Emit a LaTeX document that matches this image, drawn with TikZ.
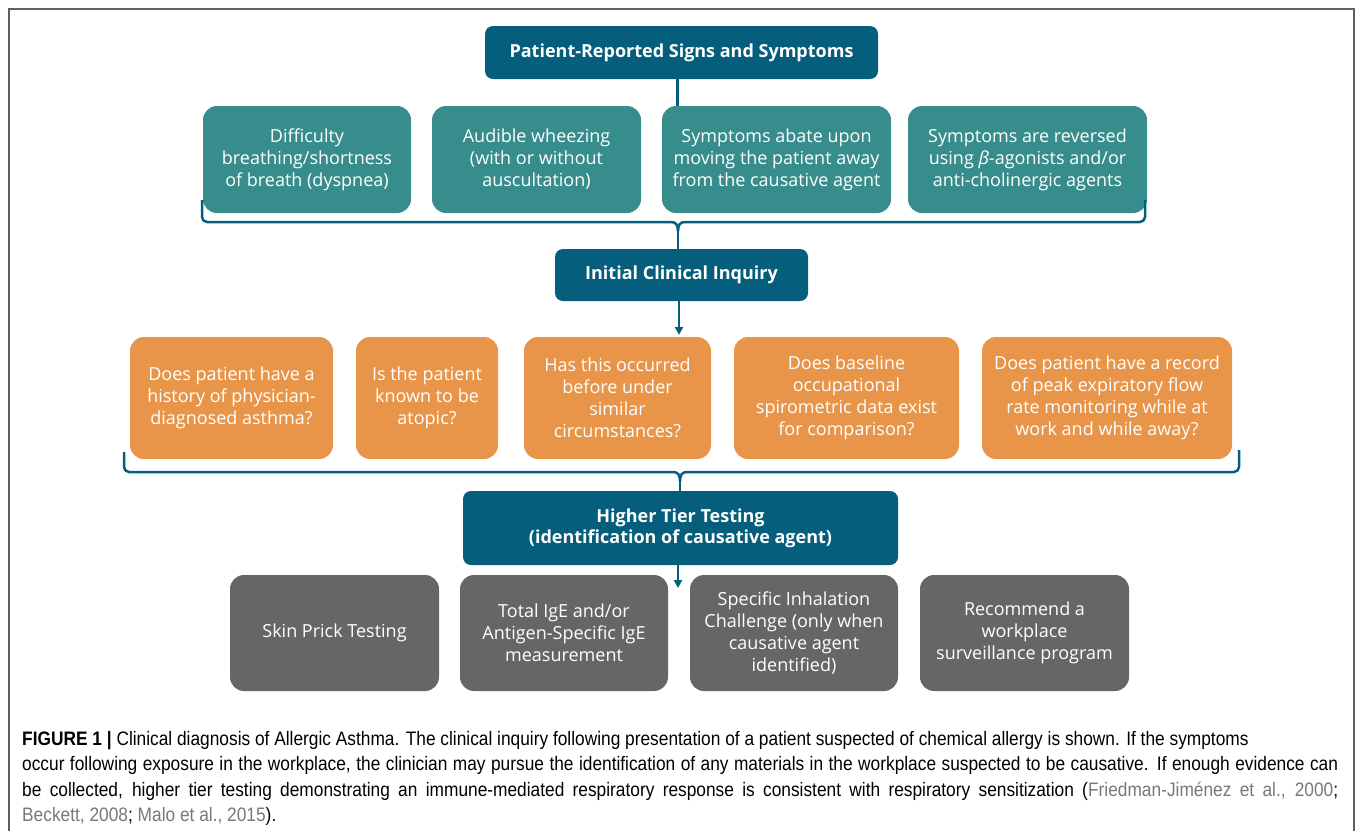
\documentclass[tikz,border=0pt]{standalone}
\usepackage{fontspec}
\setmainfont{Open Sans}
\newfontfamily\capfont[FakeStretch=0.888]{Liberation Sans}
\usetikzlibrary{arrows.meta}
\definecolor{hdrblue}{RGB}{4,94,124}
\definecolor{tealbox}{RGB}{55,141,139}
\definecolor{orangebox}{RGB}{232,149,74}
\definecolor{greybox}{RGB}{102,102,102}
\definecolor{framegrey}{RGB}{95,95,95}
\definecolor{citegrey}{RGB}{120,120,120}
\newcommand{\citeworks}[1]{\textcolor{citegrey}{#1}}
\begin{document}
\begin{tikzpicture}[x=1pt,y=-1pt,
  card/.style={rounded corners=14pt, inner sep=0pt, align=center, text=white,
    font=\fontsize{18}{22}\selectfont},
  head/.style={card, fill=hdrblue, rounded corners=8pt,
    font=\bfseries\fontsize{18}{21}\selectfont},
  sign/.style={card, fill=tealbox},
  query/.style={card, fill=orangebox},
  test/.style={card, fill=greybox},
  conn/.style={draw=hdrblue, line width=2.5pt},
  brace/.style={draw=hdrblue, line width=2.5pt, line join=round},
  tip/.style={conn, -{Triangle[length=8pt,width=8pt]}},
  capline/.style={anchor=base west, inner sep=0pt, font=\capfont\fontsize{19.5}{25}\selectfont}]
\useasboundingbox (0,0) rectangle (1355,831);

% outer frame, open at the bottom
\draw[framegrey, line width=2pt] (9,831) -- (9,9) -- (1354,9) -- (1354,831);

% headers
\node[head, minimum width=393, minimum height=53] (hdr) at (681.5,52.5)
  {Patient-Reported Signs and Symptoms};
\node[head, minimum width=253, minimum height=52] (ini) at (681.5,275)
  {Initial Clinical Inquiry};
\node[head, minimum width=435, minimum height=74] (hig) at (680.5,528)
  {Higher Tier Testing\\(identification of causative agent)};

% reported signs
\node[sign, minimum width=208, minimum height=107] (s1) at (307,159.5)
  {Difficulty\\breathing/shortness\\of breath (dyspnea)};
\node[sign, minimum width=209, minimum height=107] (s2) at (536.5,159.5)
  {Audible wheezing\\(with or without\\auscultation)};
\node[sign, minimum width=229, minimum height=107] (s3) at (776.5,159.5)
  {Symptoms abate upon\\moving the patient away\\from the causative agent};
\node[sign, minimum width=239, minimum height=107] (s4) at (1027.5,159.5)
  {Symptoms are reversed\\using \textit{β}-agonists and/or\\anti-cholinergic agents};

% clinical questions
\node[query, minimum width=203, minimum height=122] (q1) at (231.5,398)
  {Does patient have a\\history of physician-\\diagnosed asthma?};
\node[query, minimum width=142, minimum height=122] (q2) at (427,398)
  {Is the patient\\known to be\\atopic?};
\node[query, minimum width=187, minimum height=122] (q3) at (617.5,398)
  {Has this occurred\\before under\\similar\\circumstances?};
\node[query, minimum width=225, minimum height=122] (q4) at (846.5,398)
  {Does baseline\\occupational\\spirometric data exist\\for comparison?};
\node[query, minimum width=250, minimum height=122] (q5) at (1107,398)
  {Does patient have a record\\of peak expiratory flow\\rate monitoring while at\\work and while away?};

% higher tier tests
\node[test, minimum width=209, minimum height=116] (g1) at (334.5,633)
  {Skin Prick Testing};
\node[test, minimum width=208, minimum height=116] (g2) at (564,633)
  {Total IgE and/or\\Antigen-Specific IgE\\measurement};
\node[test, minimum width=208, minimum height=116] (g3) at (794,633)
  {Specific Inhalation\\Challenge (only when\\causative agent\\identified)};
\node[test, minimum width=209, minimum height=116] (g4) at (1024.5,633)
  {Recommend a\\workplace\\surveillance program};

% connectors
\coordinate (t1) at (677.5,0);
\draw[conn] (t1 |- hdr.south) -- (t1 |- s3.north);

\coordinate (b1) at (678,231);
\draw[brace, rounded corners=5pt] (202,200) |- (671,222);
\draw[brace, rounded corners=5pt] (1145,200) |- (685,222);
\draw[brace] (671,222) .. controls (676,222) and (678,225) .. (b1);
\draw[brace] (685,222) .. controls (680,222) and (678,225) .. (b1);
\draw[conn] (b1) -- (b1 |- ini.north);

\coordinate (a1) at (679,335);
\draw[tip] (a1 |- ini.south) -- (a1);

\coordinate (b2) at (680,481);
\draw[brace, rounded corners=5pt] (124,452) |- (673,472);
\draw[brace, rounded corners=5pt] (1239,450) |- (687,472);
\draw[brace] (673,472) .. controls (678,472) and (680,475) .. (b2);
\draw[brace] (687,472) .. controls (682,472) and (680,475) .. (b2);
\draw[conn] (b2) -- (b2 |- hig.north);

\coordinate (a2) at (678,588);
\draw[tip] (a2 |- hig.south) -- (a2);

% caption
\node[capline] (c1) at (22,745)
  {\textbf{FIGURE 1 |} Clinical diagnosis of Allergic Asthma. The clinical inquiry following presentation of a patient suspected of chemical allergy is shown. If the symptoms};
\node[capline] (c2) at (22,770.5)
  {\makebox[1316pt][s]{occur following exposure in the workplace, the clinician may pursue the identification of any materials in the workplace suspected to be causative. If enough evidence can}};
\node[capline] (c3) at (22,796)
  {\makebox[1316pt][s]{be collected, higher tier testing demonstrating an immune-mediated respiratory response is consistent with respiratory sensitization (\citeworks{Friedman-Jiménez et al., 2000};}};
\node[capline] (c4) at (22,821.5)
  {\citeworks{Beckett, 2008}; \citeworks{Malo et al., 2015}).};
\end{tikzpicture}
\end{document}
